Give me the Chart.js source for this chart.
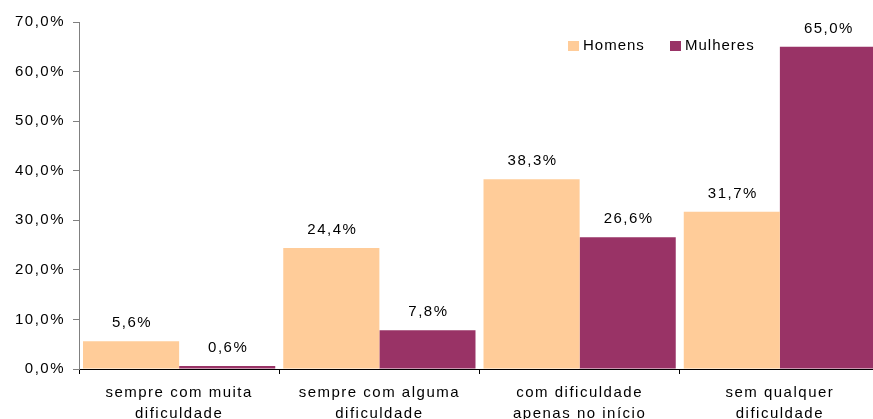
<!DOCTYPE html>
<html>
<head>
<meta charset="utf-8">
<script src="https://cdn.jsdelivr.net/npm/chart.js@4/dist/chart.umd.min.js"></script>
<style>
  html, body { margin: 0; padding: 0; background: #fff; overflow: hidden; }
  #wrap { width: 873px; height: 419px; overflow: hidden; }
</style>
</head>
<body>
<div id="wrap"><canvas id="chart" width="882" height="419"></canvas></div>
<script>
  'use strict';

  var categories = [
    ['sempre com muita', 'dificuldade'],
    ['sempre com alguma', 'dificuldade'],
    ['com dificuldade', 'apenas no início'],
    ['sem qualquer', 'dificuldade']
  ];
  var homens = [5.6, 24.4, 38.3, 31.7];
  var mulheres = [0.6, 7.8, 26.6, 65.0];
  var yTicks = [0, 10, 20, 30, 40, 50, 60, 70];

  var FONT = '"Liberation Sans", Arial, sans-serif';
  var SPACING = '1.5px';

  function fmtPct(v, dec) {
    return v.toFixed(dec).replace('.', ',') + '%';
  }

  // Excel-style wide text: applied to the context before layout and draw
  var spacingPlugin = {
    id: 'spacing',
    beforeUpdate: function (chart) { chart.ctx.letterSpacing = SPACING; },
    beforeDraw: function (chart) { chart.ctx.letterSpacing = SPACING; }
  };

  var valueLabels = {
    id: 'valueLabels',
    afterDatasetsDraw: function (chart) {
      var ctx = chart.ctx;
      ctx.save();
      ctx.letterSpacing = SPACING;
      ctx.font = '15px ' + FONT;
      ctx.fillStyle = '#000';
      ctx.textAlign = 'center';
      ctx.textBaseline = 'alphabetic';
      chart.data.datasets.forEach(function (ds, i) {
        chart.getDatasetMeta(i).data.forEach(function (bar, j) {
          ctx.fillText(fmtPct(ds.data[j], 1), bar.x + 1, bar.y - 14);
        });
      });
      ctx.restore();
    }
  };

  var boxLegend = {
    id: 'boxLegend',
    afterDraw: function (chart) {
      var ctx = chart.ctx;
      var area = chart.chartArea;
      var items = [
        { x: area.left + 489, ds: chart.data.datasets[0] },
        { x: area.left + 591, ds: chart.data.datasets[1] }
      ];
      ctx.save();
      ctx.letterSpacing = '1px';
      ctx.font = '15px ' + FONT;
      ctx.textAlign = 'left';
      ctx.textBaseline = 'middle';
      items.forEach(function (it) {
        ctx.fillStyle = it.ds.backgroundColor;
        ctx.fillRect(it.x, area.top + 19, 11, 10);
        ctx.fillStyle = '#000';
        ctx.fillText(it.ds.label, it.x + 15, area.top + 24);
      });
      ctx.restore();
    }
  };

  new Chart(document.getElementById('chart'), {
    type: 'bar',
    data: {
      labels: categories,
      datasets: [
        { label: 'Homens', data: homens, backgroundColor: '#FFCC99',
          categoryPercentage: 0.96, barPercentage: 1.0 },
        { label: 'Mulheres', data: mulheres, backgroundColor: '#993366',
          categoryPercentage: 0.96, barPercentage: 1.0 }
      ]
    },
    options: {
      responsive: false,
      animation: false,
      devicePixelRatio: 1,
      layout: { padding: { top: 22, right: 2, left: 0, bottom: 0 } },
      plugins: {
        legend: { display: false },
        tooltip: { enabled: false }
      },
      scales: {
        x: {
          afterFit: function (s) { s.height = 50; },
          border: { display: true, color: '#000', width: 1 },
          grid: { offset: true, drawOnChartArea: false, drawTicks: true, tickLength: 5, color: '#000' },
          ticks: { color: '#000', padding: 8, maxRotation: 0, autoSkip: false,
            font: { family: FONT, size: 15, lineHeight: 1.4 } }
        },
        y: {
          min: 0, max: 70,
          afterFit: function (s) { s.width = 79; },
          afterBuildTicks: function (s) {
            s.ticks = yTicks.map(function (v) { return { value: v }; });
          },
          border: { display: true, color: '#808080', width: 1 },
          grid: { drawOnChartArea: false, drawTicks: true, tickLength: 6, color: '#808080' },
          ticks: { color: '#000', padding: 8,
            font: { family: FONT, size: 15 },
            callback: function (v) { return fmtPct(v, 1); } }
        }
      }
    },
    plugins: [spacingPlugin, valueLabels, boxLegend]
  });
</script>
</body>
</html>
